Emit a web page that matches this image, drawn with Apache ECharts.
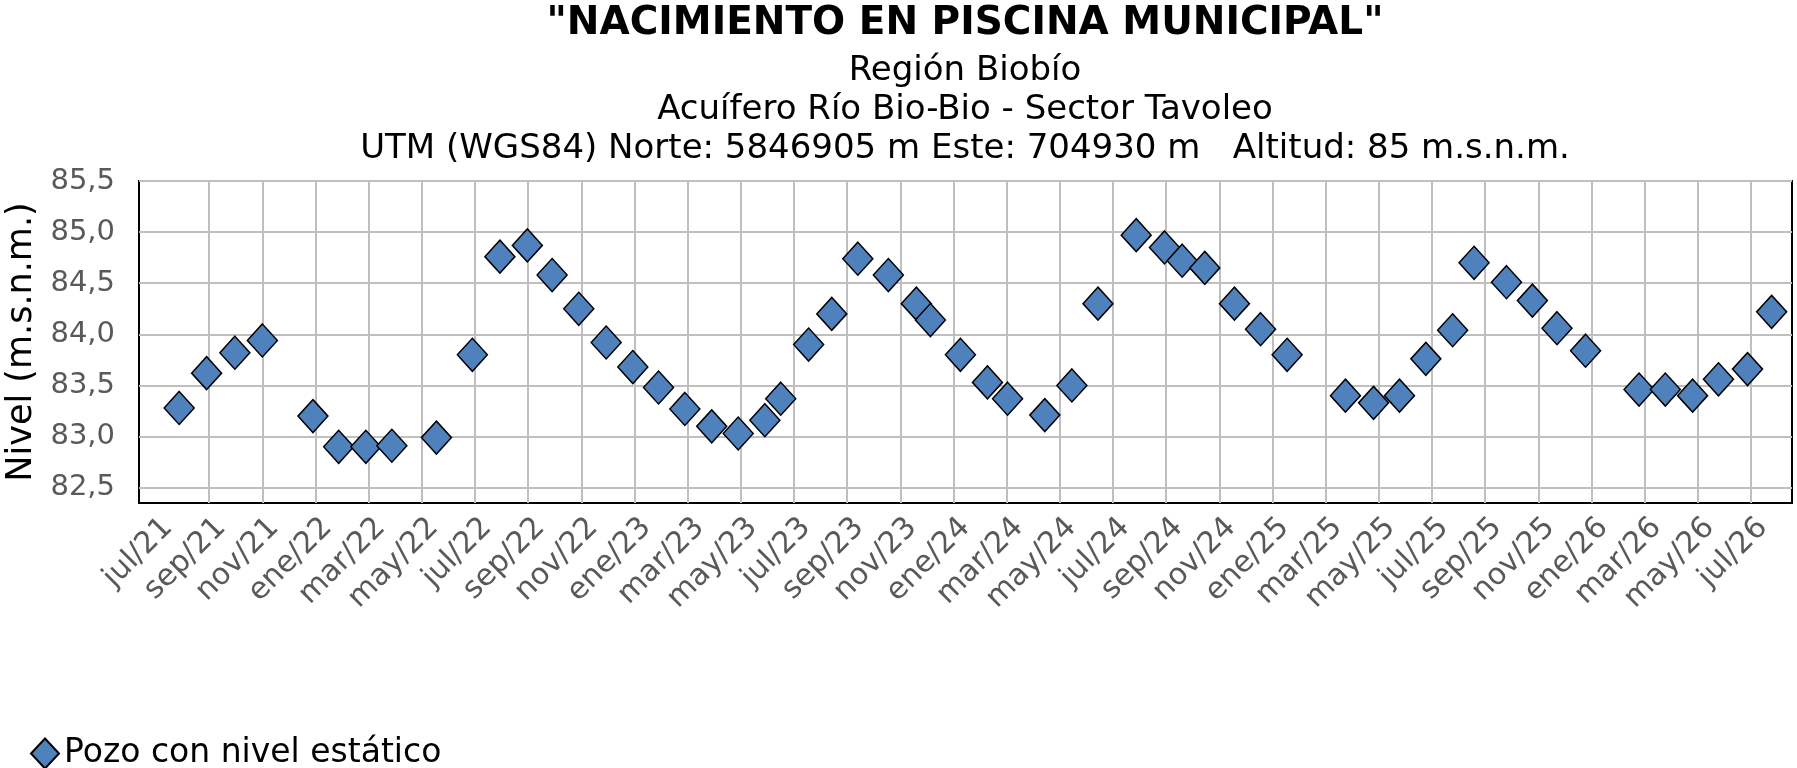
<!DOCTYPE html>
<html>
<head>
<meta charset="utf-8">
<script src="https://cdn.jsdelivr.net/npm/echarts@6/dist/echarts.min.js"></script>
<style>
  html, body { margin: 0; padding: 0; background: #fff; }
  #chart { width: 1797px; height: 768px; }
</style>
</head>
<body>
<div id="chart"></div>
<script>
// fechas de medición y nivel estático (m.s.n.m.)
var fechas = [
  '2021-07-28', '2021-08-29', '2021-09-30', '2021-11-01', '2021-12-29',
  '2022-01-28', '2022-02-26', '2022-03-28', '2022-05-18', '2022-06-28',
  '2022-07-30', '2022-08-31', '2022-09-28', '2022-10-29', '2022-11-29',
  '2022-12-30', '2023-01-29', '2023-02-26', '2023-03-29', '2023-04-28',
  '2023-05-29', '2023-06-16', '2023-07-18', '2023-08-14', '2023-09-13',
  '2023-10-18', '2023-11-19', '2023-12-05', '2024-01-09', '2024-02-09',
  '2024-03-02', '2024-04-14', '2024-05-15', '2024-06-14', '2024-07-28',
  '2024-08-30', '2024-09-19', '2024-10-15', '2024-11-18', '2024-12-18',
  '2025-01-18', '2025-03-24', '2025-04-25', '2025-05-25', '2025-06-24',
  '2025-07-25', '2025-08-19', '2025-09-25', '2025-10-25', '2025-11-22',
  '2025-12-25', '2026-02-23', '2026-03-25', '2026-04-25', '2026-05-25',
  '2026-06-27', '2026-07-25'
];
var niveles = [
  83.28, 83.62, 83.82, 83.94, 83.20,
  82.90, 82.90, 82.91, 82.99, 83.80,
  84.76, 84.87, 84.58, 84.25, 83.92,
  83.68, 83.48, 83.27, 83.10, 83.03,
  83.16, 83.37, 83.90, 84.20, 84.74,
  84.58, 84.30, 84.14, 83.80, 83.53,
  83.37, 83.21, 83.50, 84.30, 84.97,
  84.85, 84.72, 84.65, 84.30, 84.05,
  83.80, 83.40, 83.33, 83.40, 83.76,
  84.04, 84.70, 84.51, 84.33, 84.06,
  83.84, 83.46, 83.46, 83.40, 83.56,
  83.66, 84.22
];
var etiquetasX = [
  'jul/21', 'sep/21', 'nov/21',
  'ene/22', 'mar/22', 'may/22', 'jul/22', 'sep/22', 'nov/22',
  'ene/23', 'mar/23', 'may/23', 'jul/23', 'sep/23', 'nov/23',
  'ene/24', 'mar/24', 'may/24', 'jul/24', 'sep/24', 'nov/24',
  'ene/25', 'mar/25', 'may/25', 'jul/25', 'sep/25', 'nov/25',
  'ene/26', 'mar/26', 'may/26', 'jul/26'
];
var valoresY = [82.5, 83.0, 83.5, 84.0, 84.5, 85.0, 85.5];

var fuente = 'DejaVu Sans';

// meses transcurridos desde ene/2021 (eje en meses)
function mesIndice(f) {
  var p = f.split('-');
  var y = +p[0], m = +p[1], d = +p[2];
  var dias = new Date(y, m, 0).getDate();
  return (y - 2021) * 12 + (m - 1) + (d - 1) / dias;
}

var puntos = [];
for (var i = 0; i < fechas.length; i++) {
  puntos.push([mesIndice(fechas[i]), niveles[i]]);
}

// jul/21 = 6, cada 2 meses; las etiquetas giradas quedan un poco a la derecha
var corrEtiqueta = 0.45;
var posX = etiquetasX.map(function (e, k) { return 6 + k * 2; });
var lineasX = posX.slice(1);
var posEtiquetas = posX.map(function (v) { return v + corrEtiqueta; });

var chart = echarts.init(document.getElementById('chart'));

var option = {
  backgroundColor: '#fff',
  animation: false,
  title: [{
    text: '"NACIMIENTO EN PISCINA MUNICIPAL"',
    left: 965, top: 4, textAlign: 'center', padding: 0,
    textStyle: { fontFamily: fuente, fontSize: 39, fontWeight: 'bold', color: '#000' }
  }, {
    text: 'Región Biobío',
    left: 965, top: 54, textAlign: 'center', padding: 0,
    textStyle: { fontFamily: fuente, fontSize: 34, fontWeight: 'normal', color: '#000' }
  }, {
    text: 'Acuífero Río Bio-Bio - Sector Tavoleo',
    left: 965, top: 93, textAlign: 'center', padding: 0,
    textStyle: { fontFamily: fuente, fontSize: 34, fontWeight: 'normal', color: '#000' }
  }, {
    text: 'UTM (WGS84) Norte: 5846905 m Este: 704930 m   Altitud: 85 m.s.n.m.',
    left: 965, top: 132, textAlign: 'center', padding: 0,
    textStyle: { fontFamily: fuente, fontSize: 34, fontWeight: 'normal', color: '#000' }
  }],
  legend: {
    data: ['Pozo con nivel estático'],
    left: 25,
    top: 732,
    icon: 'diamond',
    itemWidth: 28,
    itemHeight: 30,
    itemGap: 5,
    textStyle: { fontFamily: fuente, fontSize: 33, color: '#000' }
  },
  grid: {
    left: 139,
    right: 5,
    top: 181,
    bottom: 265,
    containLabel: false,
    outerBoundsMode: 'none',
    show: true,
    borderColor: '#000',
    borderWidth: 2,
    backgroundColor: '#fff'
  },
  xAxis: {
    type: 'value',
    min: 5.36,
    max: 67.54,
    axisLine: { show: false },
    axisTick: { show: false, customValues: lineasX },
    splitLine: { show: true, lineStyle: { color: '#BFBFBF', width: 2 } },
    axisLabel: {
      customValues: posEtiquetas,
      rotate: 45,
      margin: 20,
      fontFamily: fuente,
      fontSize: 30,
      color: '#595959',
      formatter: function (v) {
        var k = Math.round((v - corrEtiqueta - 6) / 2);
        return etiquetasX[k] || '';
      }
    }
  },
  yAxis: {
    type: 'value',
    min: 82.35,
    max: 85.5,
    name: 'Nivel (m.s.n.m.)',
    nameLocation: 'middle',
    nameRotate: 90,
    nameGap: 95,
    nameTextStyle: { fontFamily: fuente, fontSize: 35, color: '#000' },
    axisLine: { show: false },
    axisTick: { show: false, customValues: valoresY },
    splitLine: { show: true, lineStyle: { color: '#BFBFBF', width: 2 } },
    axisLabel: {
      customValues: valoresY,
      margin: 24,
      fontFamily: fuente,
      fontSize: 29,
      color: '#595959',
      formatter: function (v) { return v.toFixed(1).replace('.', ','); }
    }
  },
  series: [{
    name: 'Pozo con nivel estático',
    type: 'scatter',
    data: puntos,
    symbol: 'diamond',
    symbolSize: [30, 33],
    itemStyle: { color: '#4F81BD', borderColor: '#000', borderWidth: 1.5, opacity: 1 }
  }]
};

chart.setOption(option);
</script>
</body>
</html>
